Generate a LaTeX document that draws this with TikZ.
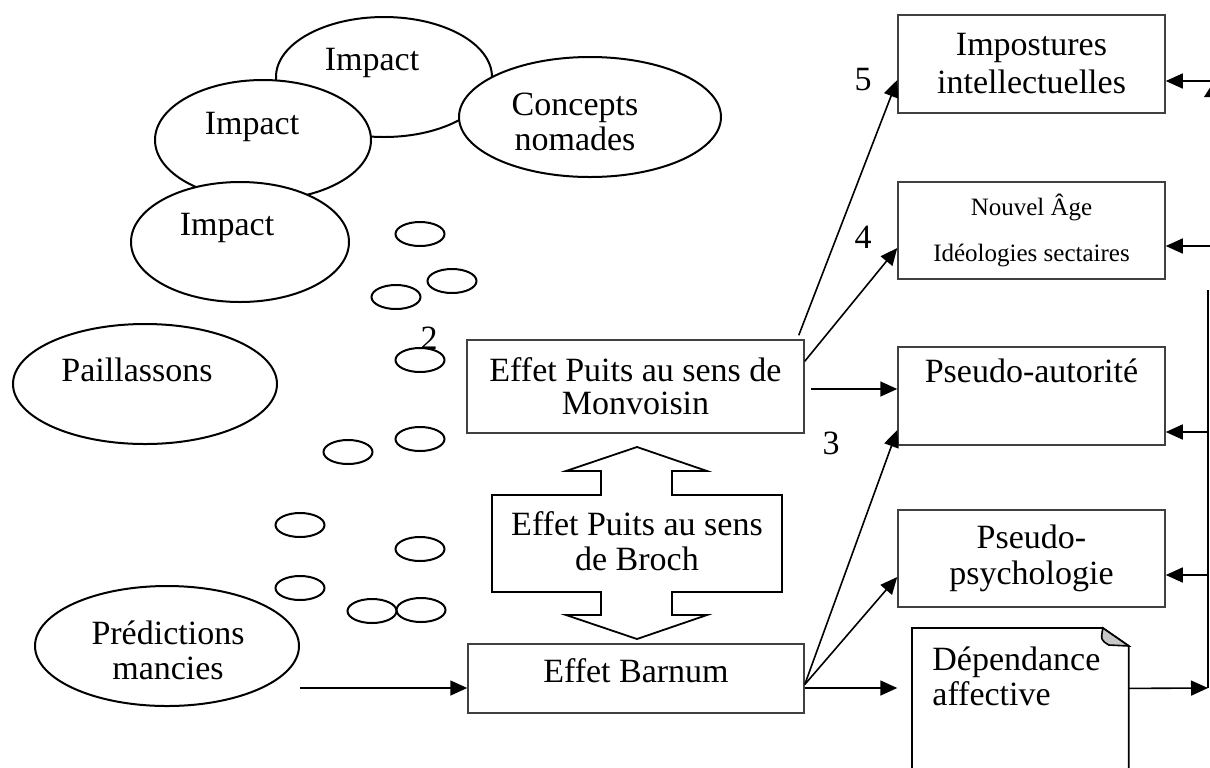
\documentclass[tikz,border=0pt]{standalone}
\usepackage{fontspec}
\setmainfont{Liberation Serif}
\usetikzlibrary{arrows.meta,shapes.geometric}
\begin{document}
\begin{tikzpicture}[x=0.5pt,y=-0.5pt,
  font=\fontsize{17}{17.5}\selectfont,
  box/.style={draw=black!75, line width=0.75pt, fill=white, rectangle, inner sep=0pt, align=center},
  oval/.style={ellipse, draw=black, line width=1pt, fill=white, inner sep=0pt},
  bubble/.style={draw=black, line width=1pt},
  arr/.style={draw=black, line width=0.8pt, -{Triangle[length=8.5pt,width=7.5pt]}},
  ln/.style={draw=black, line width=0.8pt},
  num/.style={inner sep=0pt}
]
\useasboundingbox (0,0) rectangle (1210,767);
\clip (0,0) rectangle (1210,767);

% ---- ellipses (left) ----
\node[oval, minimum width=108pt, minimum height=60pt,
  label={[xshift=-6pt,yshift=7pt]center:Impact}] (impA) at (384,77) {};
\node[oval, minimum width=108pt, minimum height=60pt,
  label={[xshift=-5.5pt,yshift=6.5pt]center:Impact}] (impB) at (263,140) {};
\node[oval, minimum width=131pt, minimum height=60pt,
  label={[align=center,xshift=-7.5pt,yshift=-2.5pt]center:Concepts\\nomades}] (concepts) at (590,117) {};
\node[oval, minimum width=109pt, minimum height=60pt,
  label={[xshift=-6.5pt,yshift=7pt]center:Impact}] (impC) at (240,242) {};
\node[oval, minimum width=132pt, minimum height=60pt,
  label={[xshift=-4pt,yshift=7pt]center:Paillassons}] (paill) at (145,384) {};
\node[oval, minimum width=132pt, minimum height=60pt,
  label={[align=center,xshift=0.5pt,yshift=-2pt]center:Prédictions\\mancies}] (pred) at (167,646) {};

% ---- small bubbles ----
\foreach \p in {(420,234),(452,281),(396,297),(420,360),(420,439),(348,452),(300,525),(420,549),(300,588),(372,611),(421,610)}
  \draw[bubble] \p ellipse [x radius=12.25pt, y radius=6pt];

% ---- middle boxes ----
\node[box, minimum width=168.5pt, minimum height=46.5pt,
  font=\fontsize{17}{16.5}\selectfont] (mon) at (635.5,386.5) {Effet Puits au sens de\\Monvoisin};
\node[box, minimum width=168pt, minimum height=34.5pt,
  label={[yshift=4pt]center:Effet Barnum}] (barnum) at (636,678.5) {};

% ---- Broch up-down arrow callout ----
\draw[line width=0.9pt, fill=white]
  (637,447) -- (707,471) -- (672,471) -- (672,495) -- (782,495) -- (782,592) -- (672,592) -- (672,615)
  -- (707,615) -- (637,639) -- (566,615) -- (601,615) -- (601,592) -- (492,592) -- (492,495)
  -- (601,495) -- (601,471) -- (566,471) -- cycle;
\node[align=center, inner sep=0pt] (broch) at (637,541) {Effet Puits au sens\\de Broch};

% ---- right boxes ----
\node[box, minimum width=133.5pt, minimum height=49pt,
  font=\fontsize{17}{19}\selectfont] (imp) at (1031.5,64) {Impostures\\intellectuelles};
\node[box, minimum width=133.5pt, minimum height=48.5pt,
  font=\fontsize{12.5}{23}\selectfont] (nouvel) at (1031.5,230.5) {Nouvel Âge\\Idéologies sectaires};
\node[box, minimum width=133.5pt, minimum height=49pt,
  label={[yshift=12.5pt]center:Pseudo-autorité}] (pauto) at (1031.5,396) {};
\node[box, minimum width=133.5pt, minimum height=48.5pt,
  font=\fontsize{17}{18}\selectfont] (psych) at (1031.5,558.5) {Pseudo-\\psychologie};

% ---- Dependance (folded corner note) ----
\node[draw=none, minimum width=108pt, minimum height=90pt, inner sep=0pt, anchor=north west,
  label={[anchor=north west, align=left, inner sep=0pt, xshift=10pt, yshift=-9pt]north west:Dépendance\\affective}]
  (dep) at (912,628) {};
\draw[draw=black, line width=0.9pt]
  (dep.south west) -- (dep.north west) -- ([xshift=-13pt]dep.north east)
  -- ([yshift=-9pt]dep.north east) -- (dep.south east);
\filldraw[fill=black!22, draw=black, line width=0.8pt]
  ([xshift=-13pt]dep.north east) .. controls ([xshift=-14pt,yshift=-6pt]dep.north east) .. ([xshift=-10pt,yshift=-8.5pt]dep.north east)
  -- ([yshift=-9pt]dep.north east) -- cycle;

% ---- numbers ----
\node[num] (n5) at (863,80) {5};
\node[num] (n4) at (863,237) {4};
\node[num] (n3) at (831,443) {3};
\node[num] (n2) at (429,338) {2};

% ---- connectors ----
\coordinate (p0) at ([yshift=-21pt]pred.east);
\draw[arr] (p0) -- (p0 -| barnum.west);

\coordinate (m5) at ([xshift=-3pt,yshift=2pt]mon.north east);
\draw[arr] (m5) -- ([yshift=-8pt]imp.west);
\draw[arr] ([yshift=-11pt]mon.north east) -- ([yshift=-8.75pt]nouvel.west);
\coordinate (m3) at ([xshift=3pt,yshift=-1.25pt]mon.east);
\draw[arr] (m3) -- (m3 -| pauto.west);

\coordinate (b0) at ([yshift=-3pt]barnum.east);
\draw[arr] (b0) -- ([yshift=-17pt]pauto.west);
\draw[arr] (b0) -- ([yshift=-9.25pt]psych.west);
\coordinate (b1) at ([yshift=-4.75pt]barnum.east);
\draw[arr] (b1) -- (b1 -| psych.west);

% right-hand collector
\coordinate (rtop) at (1208,290);
\coordinate (rbot) at (1208,688);
\coordinate (redge) at (1214,0);
\draw[arr] ([yshift=15pt]dep.east) -- (rbot);
\draw[ln] (rbot) -- (rtop);
\coordinate (ra) at ([yshift=-18pt]pauto.east);
\draw[arr] (ra -| rbot) -- (ra);
\coordinate (rp) at ([yshift=-8.25pt]psych.east);
\draw[arr] (rp -| rbot) -- (rp);
\coordinate (ri) at ([yshift=-8.5pt]imp.east);
\draw[arr] (ri -| redge) -- (ri);
\coordinate (rn) at ([yshift=-7.75pt]nouvel.east);
\draw[arr] (rn -| redge) -- (rn);
\fill[black] (1211,86) -- (1204,97) -- (1218,97) -- cycle;
\end{tikzpicture}
\end{document}
